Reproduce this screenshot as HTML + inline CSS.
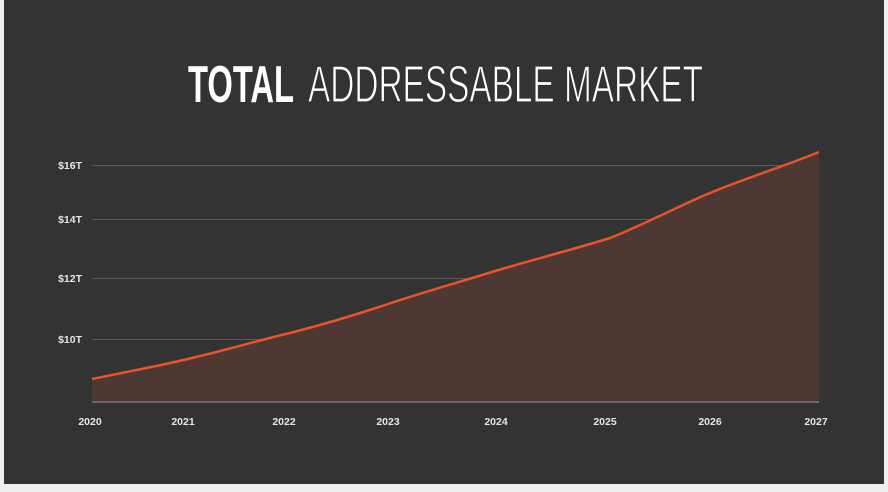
<!DOCTYPE html>
<html><head><style>
html,body{margin:0;padding:0;background:#f2f2f2;}
body{width:888px;height:492px;overflow:hidden;position:relative;}
</style></head><body>
<svg width="888" height="492" viewBox="0 0 888 492" style="position:absolute;left:0;top:0">
<rect x="0" y="0" width="888" height="492" fill="#efefef"/>
<rect x="4" y="0" width="880" height="484" fill="#333333"/>
<text x="188" y="102" font-family="Liberation Sans, sans-serif" font-weight="bold" font-size="52" fill="#fff" textLength="106" lengthAdjust="spacingAndGlyphs">TOTAL</text>
<text x="308" y="102" font-family="Liberation Sans, sans-serif" font-size="52" fill="#fff" textLength="395" lengthAdjust="spacingAndGlyphs" style="font-weight:100" stroke="#333" stroke-width="1.2" paint-order="normal">ADDRESSABLE MARKET</text>
<g stroke="#5a5a5a" stroke-width="1">
<line x1="92" y1="165.5" x2="819" y2="165.5"/>
<line x1="92" y1="219.5" x2="819" y2="219.5"/>
<line x1="92" y1="278.5" x2="819" y2="278.5"/>
<line x1="92" y1="339.5" x2="819" y2="339.5"/>
</g>
<path d="M92,379 C130,371 160,366 196,357 C230,349 260,340 290,333 C325,324 355,315 385,305 C420,293 460,282 495,271 C535,259 575,249 610,238 C645,224 675,208 705,195 C745,178 780,168 819,152 L819,402 L92,402 Z" fill="#4e3833"/>
<line x1="92" y1="402" x2="819" y2="402" stroke="#666" stroke-width="2"/>
<path d="M92,379 C130,371 160,366 196,357 C230,349 260,340 290,333 C325,324 355,315 385,305 C420,293 460,282 495,271 C535,259 575,249 610,238 C645,224 675,208 705,195 C745,178 780,168 819,152" fill="none" stroke="#e8532a" stroke-width="2.5"/>
<g font-family="Liberation Sans, sans-serif" font-weight="bold" font-size="10.5" fill="#e6e6e6" text-anchor="end">
<text x="82" y="169">$16T</text>
<text x="82" y="223">$14T</text>
<text x="82" y="282">$12T</text>
<text x="82" y="343">$10T</text>
</g>
<g font-family="Liberation Sans, sans-serif" font-weight="bold" font-size="10.5" fill="#e6e6e6" text-anchor="middle">
<text x="90" y="425">2020</text>
<text x="183" y="425">2021</text>
<text x="284" y="425">2022</text>
<text x="388" y="425">2023</text>
<text x="496" y="425">2024</text>
<text x="605" y="425">2025</text>
<text x="710" y="425">2026</text>
<text x="816" y="425">2027</text>
</g>
</svg>
</body></html>
